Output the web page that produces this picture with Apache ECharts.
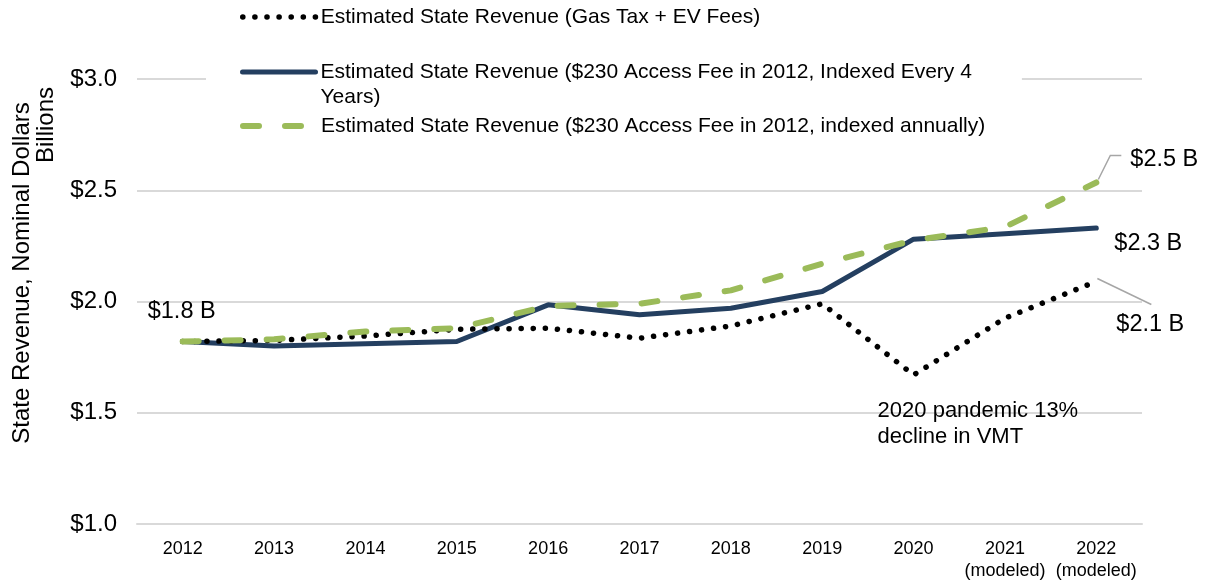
<!DOCTYPE html>
<html>
<head>
<meta charset="utf-8">
<script src="https://cdn.jsdelivr.net/npm/echarts@6/dist/echarts.min.js"></script>
<style>
  html, body { margin: 0; padding: 0; background: #fff; }
  #chart { width: 1208px; height: 582px; }
</style>
</head>
<body>
<div id="chart"></div>
<script>
// data
const years = ['2012', '2013', '2014', '2015', '2016', '2017', '2018', '2019', '2020', '2021\n(modeled)', '2022\n(modeled)'];
const gasTaxEv = [1.82, 1.825, 1.845, 1.875, 1.88, 1.835, 1.89, 1.99, 1.67, 1.925, 2.09];
const feeEvery4 = [1.82, 1.80, 1.81, 1.82, 1.985, 1.94, 1.97, 2.045, 2.28, 2.305, 2.33];
const feeAnnual = [1.82, 1.83, 1.865, 1.88, 1.98, 1.99, 2.05, 2.17, 2.275, 2.335, 2.535];
const yTicks = { min: 1.0, max: 3.0, interval: 0.5 };

const names = [
  'Estimated State Revenue (Gas Tax + EV Fees)',
  'Estimated State Revenue ($230 Access Fee in 2012, Indexed Every 4\nYears)',
  'Estimated State Revenue ($230 Access Fee in 2012, indexed annually)'
];

const FONT = 'Liberation Sans, Arial, sans-serif';
const NAVY = '#243f60';
const GREEN = '#9bbb59';
const GRID = '#d9d9d9';
const LEADER = '#a6a6a6';
const CLEAR = 'rgba(0,0,0,0)';

const dotted = { color: '#000', width: 5.5, type: [0.1, 12], cap: 'round' };
const solid = { color: NAVY, width: 5, cap: 'round' };
const dashed = { color: GREEN, width: 6, type: [16, 26], cap: 'round' };

const last = years.length - 1;
const pandemicIdx = years.indexOf('2020');

// attach a text label to one point of a series
function withLabels(values, labels) {
  return values.map((v, i) => labels[i] ? { value: v, label: labels[i] } : v);
}
const lbl = (text, offset, extra) => Object.assign({
  show: true, position: 'inside', formatter: text, offset: offset,
  color: '#000', fontSize: 23.5, fontFamily: FONT
}, extra || {});

const chart = echarts.init(document.getElementById('chart'));

const legendText = { fontSize: 21, fontFamily: FONT, color: '#000', lineHeight: 25 };
const legendBase = {
  orient: 'vertical',
  itemWidth: 73,
  itemHeight: 8,
  itemGap: 0,
  padding: 0,
  left: 240,
  textStyle: legendText
};

const option = {
  animation: false,
  grid: { left: 137, right: 66, top: 79, bottom: 57 },
  legend: [
    Object.assign({}, legendBase, { data: [names[0]], top: 4.5, lineStyle: dotted }),
    Object.assign({}, legendBase, {
      data: [names[1]], left: 206, top: 34.5, padding: [0, 50, 0, 34],
      backgroundColor: '#fff', z: 10, lineStyle: solid,
      // empty first line keeps the icon level with the first text line
      formatter: name => '\n' + name
    }),
    Object.assign({}, legendBase, { data: [names[2]], top: 113.5, lineStyle: dashed })
  ],
  xAxis: {
    type: 'category',
    data: years,
    boundaryGap: true,
    axisLine: { show: true, lineStyle: { color: GRID, width: 2 } },
    axisTick: { show: false },
    axisLabel: { color: '#000', fontSize: 18, fontFamily: FONT, lineHeight: 22, margin: 14, interval: 0 }
  },
  yAxis: {
    type: 'value',
    min: yTicks.min,
    max: yTicks.max,
    interval: yTicks.interval,
    axisLine: { show: false },
    axisTick: { show: false },
    splitLine: { lineStyle: { color: GRID, width: 2 } },
    axisLabel: {
      color: '#000', fontSize: 24, fontFamily: FONT, margin: 20,
      formatter: v => '$' + v.toFixed(1)
    }
  },
  graphic: [
    {
      id: 'ytitle', type: 'text', x: 22, y: 273, rotation: Math.PI / 2,
      style: { text: 'State Revenue, Nominal Dollars', fill: '#000', font: '24px ' + FONT, align: 'center', verticalAlign: 'middle' }
    },
    {
      id: 'yunit', type: 'text', x: 46, y: 125, rotation: Math.PI / 2,
      style: { text: 'Billions', fill: '#000', font: '24px ' + FONT, align: 'center', verticalAlign: 'middle' }
    }
  ],
  series: [
    {
      name: names[0],
      type: 'line',
      data: withLabels(gasTaxEv, {
        [pandemicIdx]: lbl('2020 pandemic 13%\ndecline in VMT', [-36, 49], { align: 'left', lineHeight: 26, fontSize: 22 }),
        [last]: lbl('$2.1 B', [54, 43])
      }),
      symbol: 'circle', symbolSize: 2,
      itemStyle: { color: CLEAR },
      lineStyle: dotted,
      z: 3
    },
    {
      name: names[1],
      type: 'line',
      data: withLabels(feeEvery4, {
        0: lbl('$1.8 B', [-1, -30]),
        [last]: lbl('$2.3 B', [52, 15])
      }),
      symbol: 'circle', symbolSize: 2,
      itemStyle: { color: CLEAR },
      lineStyle: solid,
      z: 2
    },
    {
      name: names[2],
      type: 'line',
      data: withLabels(feeAnnual, {
        [last]: lbl('$2.5 B', [68, -23])
      }),
      symbol: 'circle', symbolSize: 2,
      itemStyle: { color: CLEAR },
      lineStyle: dashed,
      z: 4
    }
  ]
};

chart.setOption(option);

// leader lines from the 2022 points to their labels
const p25 = chart.convertToPixel({ gridIndex: 0 }, [last, feeAnnual[last]]);
const p21 = chart.convertToPixel({ gridIndex: 0 }, [last, gasTaxEv[last]]);
chart.setOption({
  graphic: [
    {
      id: 'lead25', type: 'polyline', z: 5, silent: true,
      shape: { points: [[p25[0] + 2, p25[1] - 3], [p25[0] + 14, p25[1] - 27], [p25[0] + 25, p25[1] - 27]] },
      style: { stroke: LEADER, lineWidth: 1.5, fill: null }
    },
    {
      id: 'lead21', type: 'line', z: 5, silent: true,
      shape: { x1: p21[0] + 1, y1: p21[1] - 3, x2: p21[0] + 55, y2: p21[1] + 23 },
      style: { stroke: LEADER, lineWidth: 1.5 }
    }
  ]
});
</script>
</body>
</html>
